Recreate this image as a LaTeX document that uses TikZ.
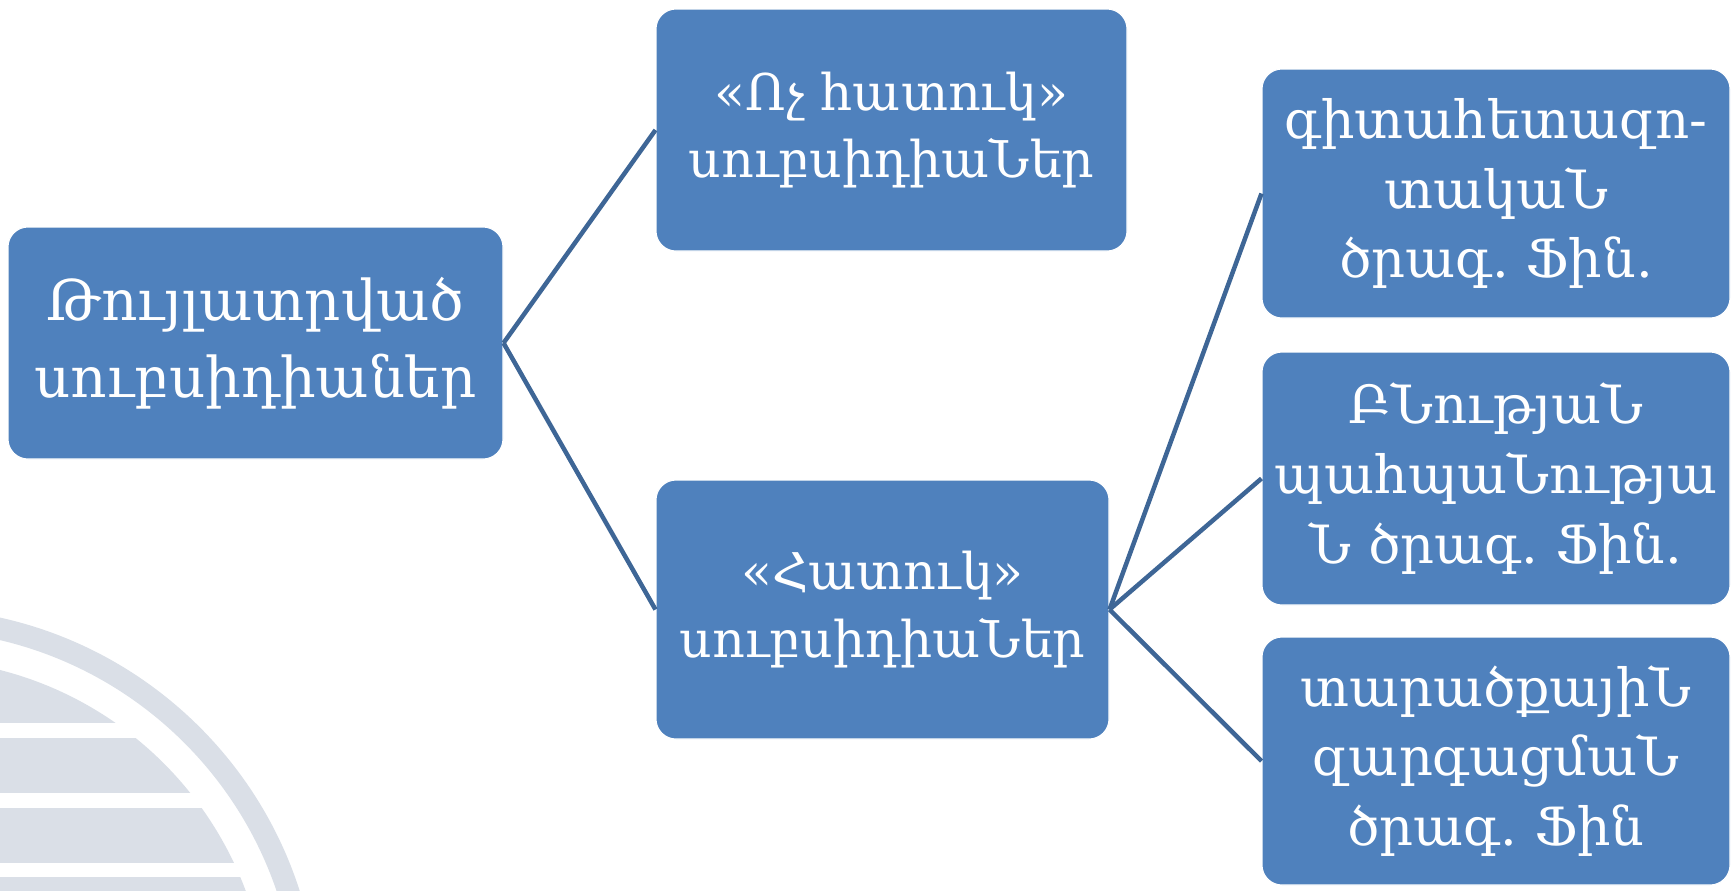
\documentclass[tikz,border=0pt]{standalone}
\usepackage{fontspec}
\setmainfont{DejaVu Serif}
\definecolor{boxblue}{RGB}{79,129,189}
\definecolor{linkblue}{RGB}{62,102,150}
\definecolor{markgray}{RGB}{218,223,231}

\begin{document}
\frenchspacing
\begin{tikzpicture}[
	x=0.1mm, y=-0.1mm,
	box/.style={rectangle, rounded corners=2mm, fill=boxblue, draw=white,
		line width=0.3pt, text=white, align=center, inner sep=0pt},
	rootbox/.style={box, font=\fontsize{16}{21.9}\selectfont},
	midbox/.style={box, font=\fontsize{14.4}{19.1}\selectfont},
	leafbox/.style={box, minimum width=46.8mm, font=\fontsize{15}{19.9}\selectfont},
	link/.style={draw=linkblue, line width=0.45mm}]
\useasboundingbox (0,0) rectangle (1733,890);

% logo in the corner
\begin{scope}
	\clip (0,0) rectangle (1733,890);
	\fill[markgray, even odd rule] (-88,1015) circle (40.7mm) (-88,1015) circle (38.5mm);
	\clip (-88,1015) circle (35.6mm);
	\foreach \top/\bot in {600/723, 738/793, 808/863, 877/900}
		\fill[markgray] (-100,\top) rectangle (400,\bot);
\end{scope}

\node[rootbox, minimum width=49.5mm, minimum height=23.2mm] (allowed) at (255.5,343)
	{Թույլատրված\\սուբսիդիաներ};
\node[midbox, minimum width=47.1mm, minimum height=24.2mm] (general) at (891.5,130)
	{«Ոչ հատուկ»\\սուբսիդիաՆեր};
\node[midbox, minimum width=45.3mm, minimum height=25.9mm] (specific) at (882.5,609.5)
	{«Հատուկ»\\սուբսիդիաՆեր};
\node[leafbox, minimum height=24.9mm] (research) at (1496,193.5)
	{գիտահետազո-\\տակաՆ\\ծրագ. Ֆին.};
\node[leafbox, minimum height=25.3mm] (nature) at (1496,478.5)
	{ԲՆությաՆ\\պահպաՆությա\\Ն ծրագ. Ֆին.};
\node[leafbox, minimum height=24.8mm] (regional) at (1496,761)
	{տարածքայիՆ\\զարգացմաՆ\\ծրագ. Ֆին};

\draw[link] (allowed.east) -- (general.west);
\draw[link] (allowed.east) -- (specific.west);
\foreach \leaf in {research, nature, regional}
	\draw[link] (specific.east) -- (\leaf.west);
\end{tikzpicture}
\end{document}
